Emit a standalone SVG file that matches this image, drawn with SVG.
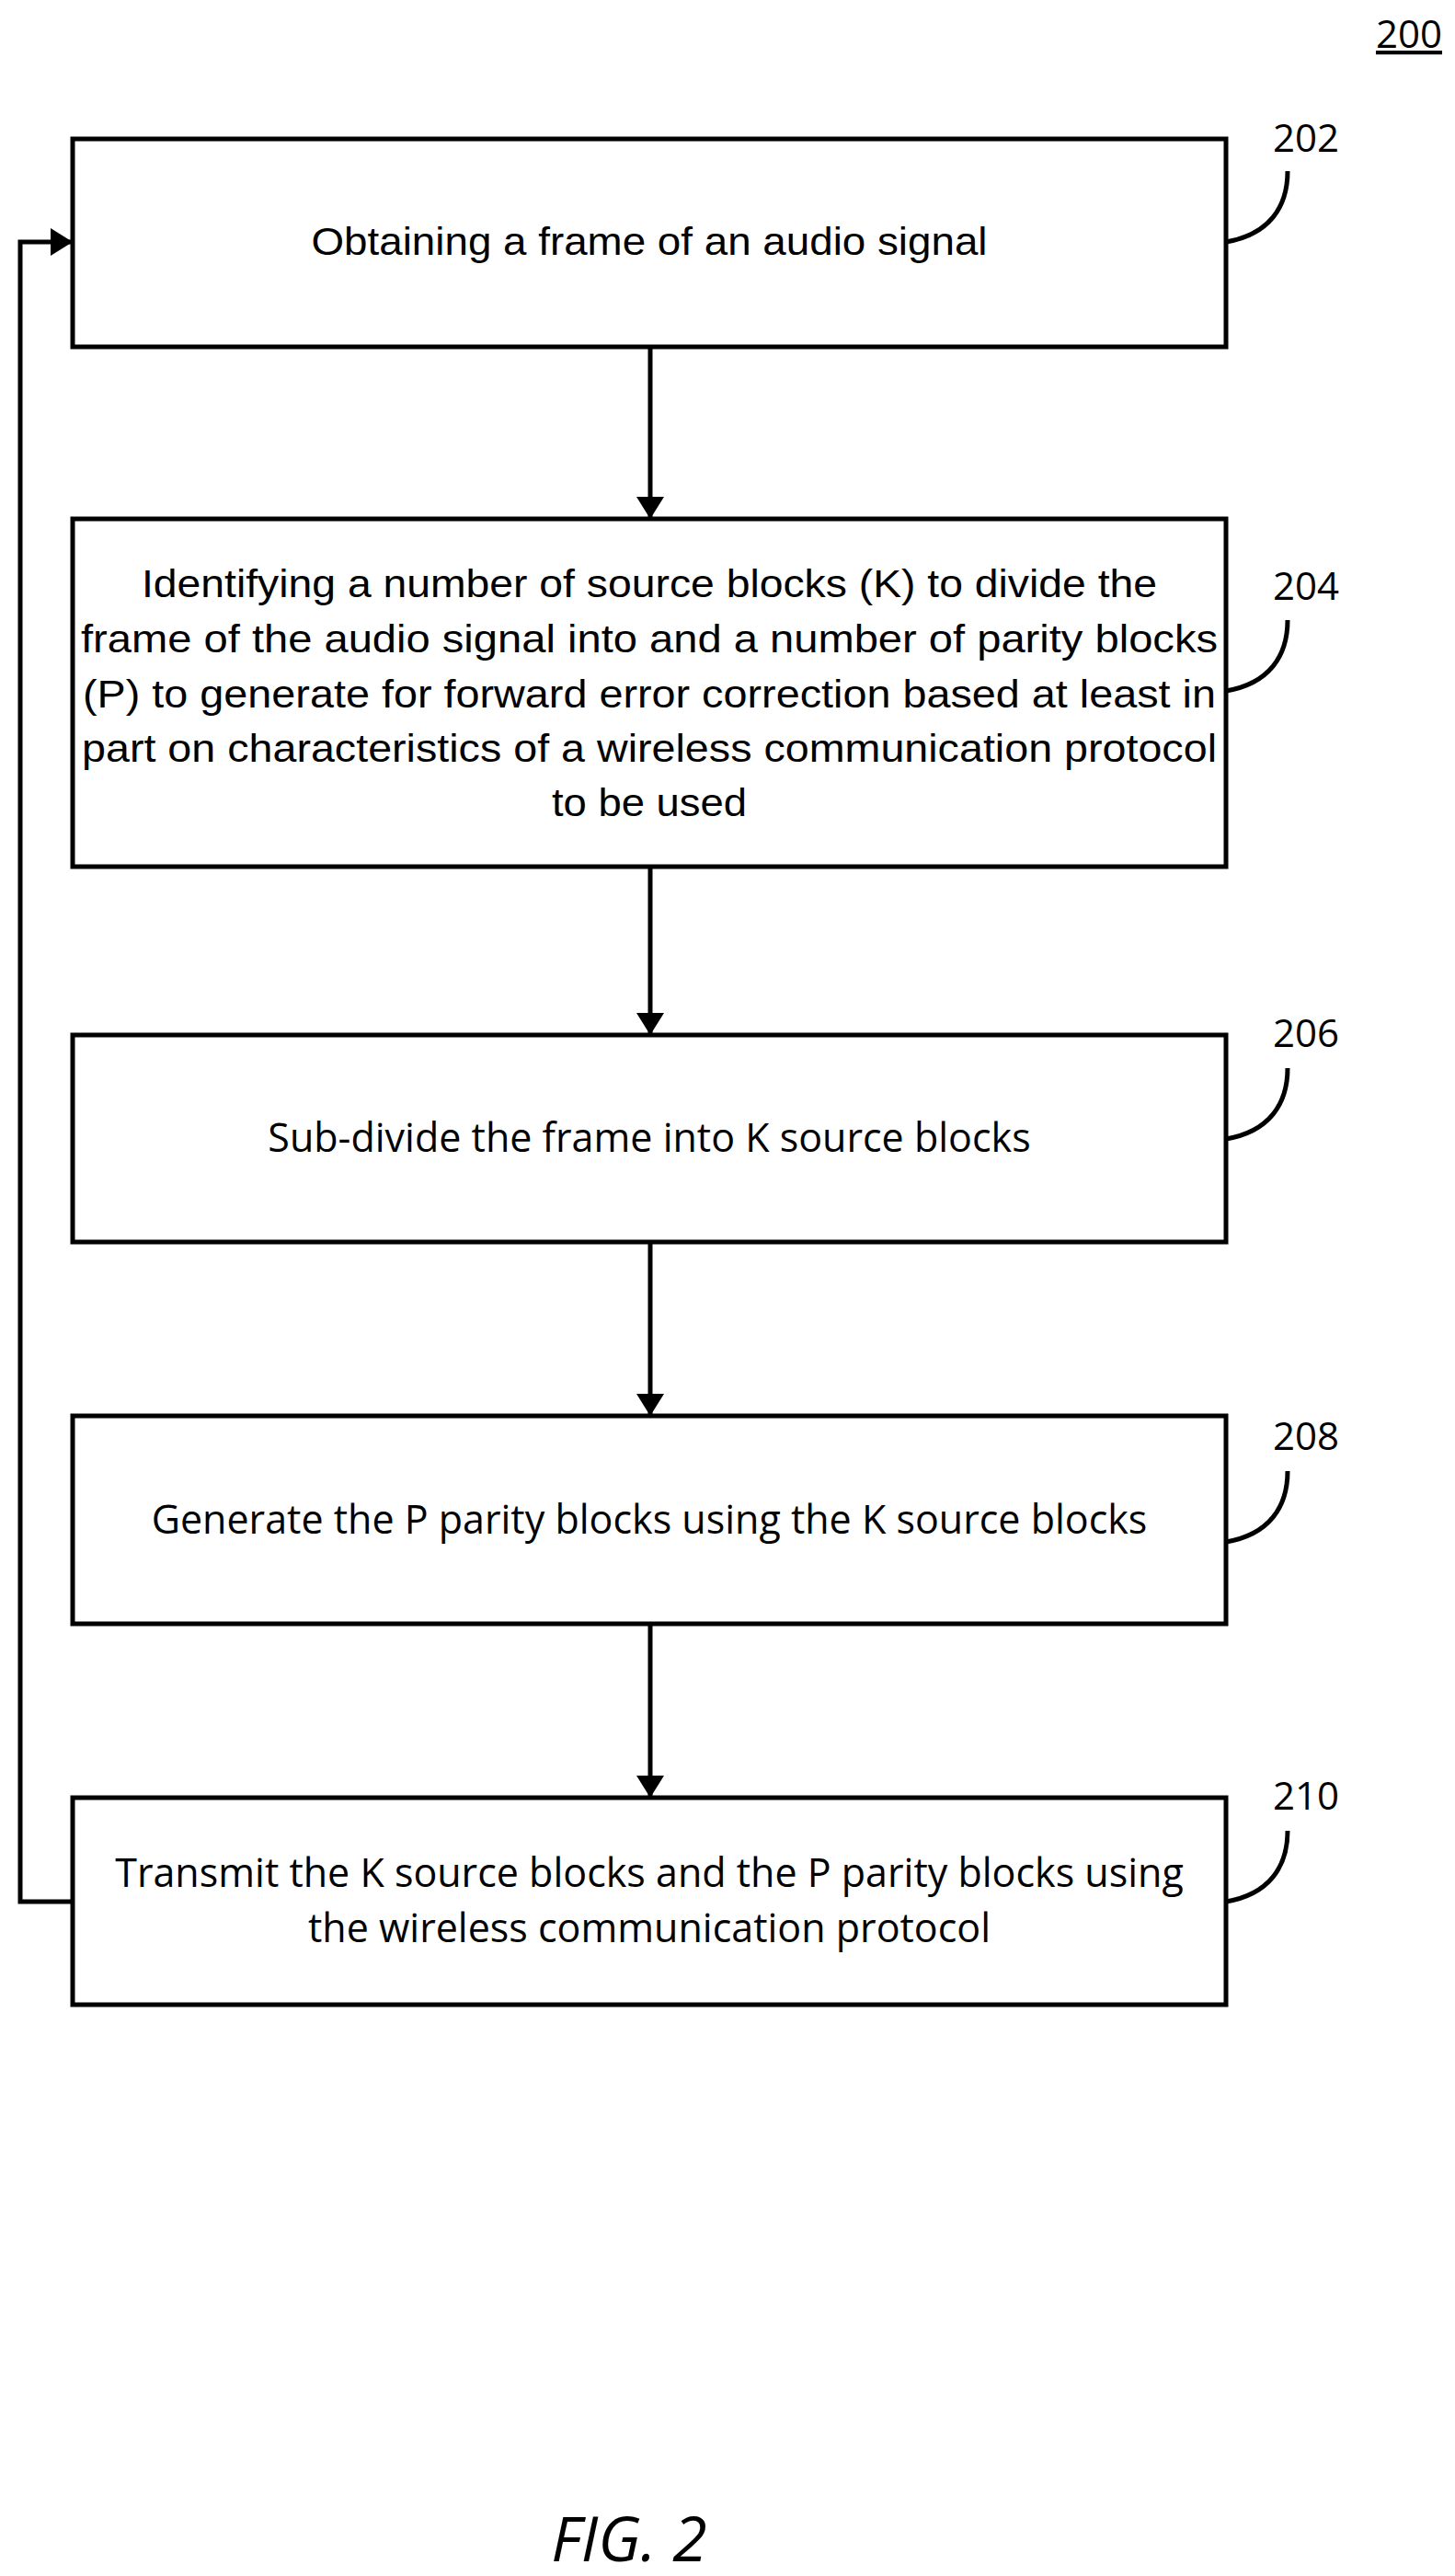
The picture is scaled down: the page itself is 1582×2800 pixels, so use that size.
<svg xmlns="http://www.w3.org/2000/svg" width="1582" height="2800" viewBox="0 0 1582 2800">
<style>
.b{fill:#fff;stroke:#000;stroke-width:5}
.c{fill:none;stroke:#000;stroke-width:5}
.t{font-family:"Liberation Sans Narrow","Liberation Sans",sans-serif;font-size:42px;text-anchor:middle}
.o{font-family:"Open Sans","Liberation Sans",sans-serif;font-size:43px;text-anchor:middle}
.n{font-family:"Open Sans","Liberation Sans",sans-serif;font-size:42px;text-anchor:middle}
</style>
<defs><marker id="h" markerWidth="24" markerHeight="30" refX="24" refY="15" orient="auto" markerUnits="userSpaceOnUse"><path d="M0,0 L24,15 L0,30z"/></marker></defs>
<text x="1532" y="52" class="n" text-decoration="underline">200</text>
<g id="connectors">
<line class="c" x1="707" y1="377" x2="707" y2="564" marker-end="url(#h)"/>
<line class="c" x1="707" y1="942" x2="707" y2="1125" marker-end="url(#h)"/>
<line class="c" x1="707" y1="1350" x2="707" y2="1539" marker-end="url(#h)"/>
<line class="c" x1="707" y1="1765" x2="707" y2="1954" marker-end="url(#h)"/>
<polyline class="c" points="79,2067 22,2067 22,263 79,263" marker-end="url(#h)"/>
</g>
<g id="n202"><rect class="b" x="79" y="151" width="1254" height="226"/>
<text class="t" x="706" y="277" textLength="735" lengthAdjust="spacingAndGlyphs">Obtaining a frame of an audio signal</text>
<text class="n" x="1420" y="165">202</text><path class="c" d="M1333,263 C1380,255 1400,225 1400,186"/></g>
<g id="n204"><rect class="b" x="79" y="564" width="1254" height="378"/>
<text class="t" x="706" y="649" textLength="1104" lengthAdjust="spacingAndGlyphs">Identifying a number of source blocks (K) to divide the</text>
<text class="t" x="706" y="709" textLength="1236" lengthAdjust="spacingAndGlyphs">frame of the audio signal into and a number of parity blocks</text>
<text class="t" x="706" y="769" textLength="1232" lengthAdjust="spacingAndGlyphs">(P) to generate for forward error correction based at least in</text>
<text class="t" x="706" y="828" textLength="1234" lengthAdjust="spacingAndGlyphs">part on characteristics of a wireless communication protocol</text>
<text class="t" x="706" y="887" textLength="212" lengthAdjust="spacingAndGlyphs">to be used</text>
<text class="n" x="1420" y="652">204</text><path class="c" d="M1333,751 C1380,743 1400,713 1400,674"/></g>
<g id="n206"><rect class="b" x="79" y="1125" width="1254" height="225"/>
<text class="o" x="706" y="1252">Sub-divide the frame into K source blocks</text>
<text class="n" x="1420" y="1138">206</text><path class="c" d="M1333,1238 C1380,1230 1400,1200 1400,1161"/></g>
<g id="n208"><rect class="b" x="79" y="1539" width="1254" height="226"/>
<text class="o" x="706" y="1667">Generate the P parity blocks using the K source blocks</text>
<text class="n" x="1420" y="1576">208</text><path class="c" d="M1333,1676 C1380,1668 1400,1638 1400,1599"/></g>
<g id="n210"><rect class="b" x="79" y="1954" width="1254" height="225"/>
<text class="o" x="706" y="2051">Transmit the K source blocks and the P parity blocks using</text>
<text class="o" x="706" y="2111">the wireless communication protocol</text>
<text class="n" x="1420" y="1967">210</text><path class="c" d="M1333,2067 C1380,2059 1400,2029 1400,1990"/></g>
<text x="684" y="2784" font-family="Open Sans, Liberation Sans, sans-serif" font-size="68" font-style="italic" text-anchor="middle">FIG. 2</text>
</svg>
